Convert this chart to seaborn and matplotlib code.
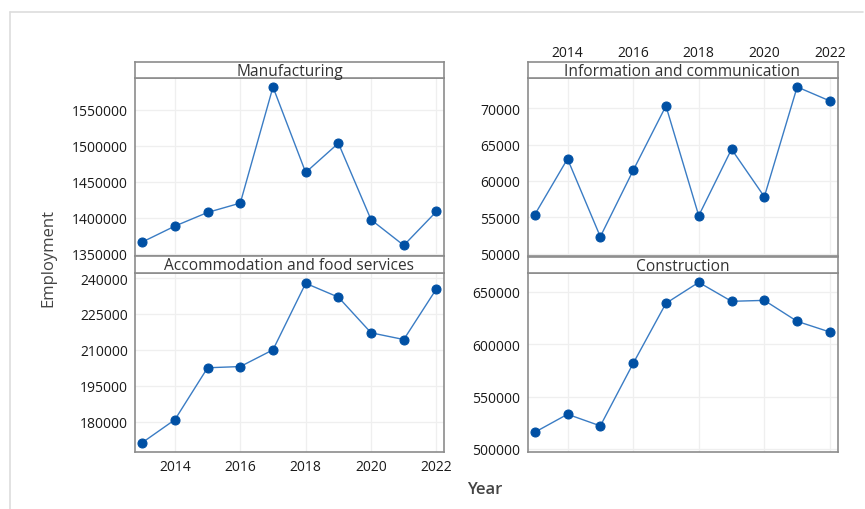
import matplotlib
matplotlib.use("Agg")
import matplotlib.pyplot as plt
from matplotlib.lines import Line2D
import seaborn as sns
import pandas as pd

years = [2013, 2014, 2015, 2016, 2017, 2018, 2019, 2020, 2021, 2022]
manufacturing = [1366200, 1388400, 1407400, 1420400, 1581900, 1463000, 1503700, 1397200, 1361600, 1408800]
accommodation = [171200, 180800, 202500, 203000, 210000, 237800, 232000, 217100, 214300, 235500]
info_comm = [55350, 63040, 52330, 61440, 70320, 55220, 64370, 57830, 72930, 71000]
construction = [515900, 533100, 522000, 581500, 638900, 658900, 640800, 641700, 621700, 611500]

x_ticks = [2014, 2016, 2018, 2020, 2022]
manu_ticks = [1350000, 1400000, 1450000, 1500000, 1550000]
acc_ticks = [180000, 195000, 210000, 225000, 240000]
info_ticks = [50000, 55000, 60000, 65000, 70000]
cons_ticks = [500000, 550000, 600000, 650000]

sns.set_style("white")
plt.rcParams['font.family'] = ['Open Sans', 'DejaVu Sans']

W, H = 865, 510
fig = plt.figure(figsize=(8.65, 5.10), dpi=100)

def fx(px):
    return px / W

def fy(py):
    return 1 - py / H

# light page frame
fig.add_artist(Line2D([fx(9.5), fx(9.5)], [fy(13), 0], color="#dddddd", lw=1.2))
fig.add_artist(Line2D([fx(9.5), fx(863)], [fy(13), fy(13)], color="#dddddd", lw=1.2))

edge = "#8c8c8c"
line_col = "#3a7cc4"
mark_col = "#0050a4"
tick_col = "#1a1a1a"

panels = [
    # title, values, ylim, yticks, left px, right px, strip top, strip bottom, plot bottom, xlabels
    ("Manufacturing", manufacturing, (1346800, 1594400), manu_ticks, 135, 444, 63, 79, 257, None),
    ("Accommodation and food services", accommodation, (167300, 242100), acc_ticks, 135, 444, 257, 274, 453, "bottom"),
    ("Information and communication", info_comm, (49680, 74160), info_ticks, 527.5, 837.5, 62.5, 79, 257, "top"),
    ("Construction", construction, (497100, 667800), cons_ticks, 527.5, 837.5, 258, 274, 453, None),
]

for title, vals, ylim, yticks, l, r, st, sb, pb, xlab in panels:
    ax = fig.add_axes([fx(l), fy(pb), fx(r - l), fy(sb) - fy(pb)])
    df = pd.DataFrame({"Year": years, "Employment": vals})
    sns.lineplot(data=df, x="Year", y="Employment", ax=ax, color=line_col, lw=1.0,
                 marker="o", markersize=6.5, markerfacecolor=mark_col,
                 markeredgecolor=mark_col, zorder=3)
    ax.set_xlim(2012.78, 2022.23)
    ax.set_ylim(*ylim)
    ax.set_xticks(x_ticks)
    ax.set_yticks(yticks)
    ax.set_yticklabels([str(v) for v in yticks])
    ax.grid(True, color="#efefef", lw=0.9)
    ax.set_axisbelow(True)
    ax.set_xlabel("")
    ax.set_ylabel("")
    for s in ax.spines.values():
        s.set_color(edge)
        s.set_linewidth(1.2)
    ax.tick_params(axis="y", length=3, color=edge, labelsize=10, labelcolor=tick_col, pad=2)
    if xlab == "bottom":
        ax.tick_params(axis="x", length=3, color=edge, labelsize=10, labelcolor=tick_col, pad=2)
    elif xlab == "top":
        ax.xaxis.tick_top()
        # strip sits between the axes and its labels, so push labels above strip
        ax.tick_params(axis="x", length=0, labelsize=10, labelcolor=tick_col, pad=13)
    else:
        ax.tick_params(axis="x", length=0, labelbottom=False)

    sax = fig.add_axes([fx(l), fy(sb), fx(r - l), fy(st) - fy(sb)])
    sax.set_xticks([])
    sax.set_yticks([])
    sax.set_facecolor("white")
    for s in sax.spines.values():
        s.set_color(edge)
        s.set_linewidth(1.2)
    sax.text(0.5, 0.45, title, ha="center", va="center", fontsize=11.2,
             color="#333333", transform=sax.transAxes)

fig.text(fx(48), fy(258), "Employment", rotation=90, ha="center", va="center",
         fontsize=12, color="#444444")
fig.text(fx(485), fy(490), "Year", ha="center", va="center",
         fontsize=12, color="#444444", fontweight="semibold")

fig.savefig("out.png", dpi=100)
